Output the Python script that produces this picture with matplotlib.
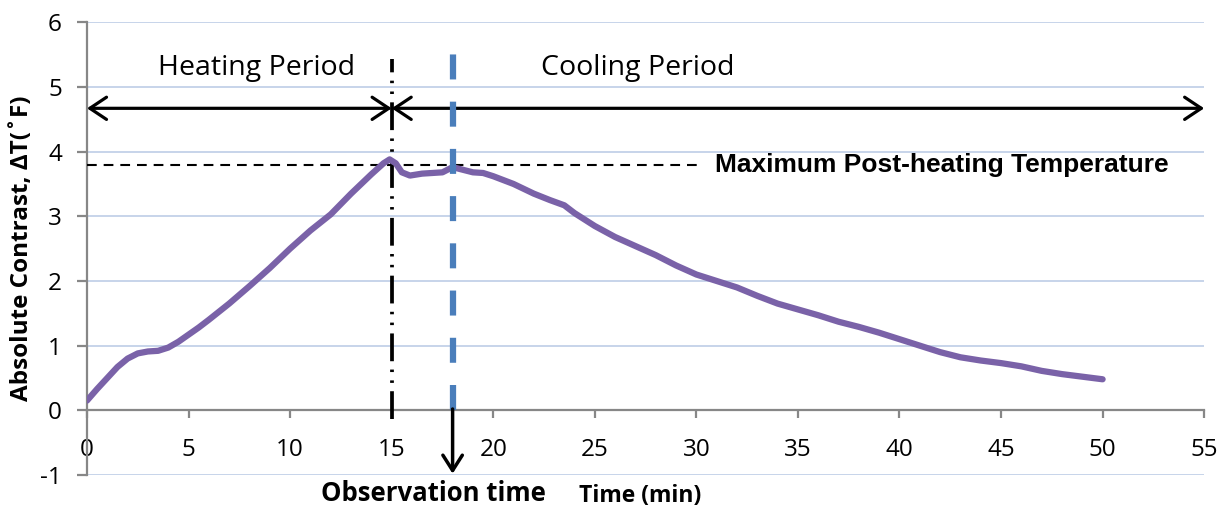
import numpy as np
import matplotlib
matplotlib.use('Agg')
from matplotlib import pyplot as plt

# Absolute contrast curve
time_min = [0, 0.5, 1, 1.5, 2, 2.5, 3, 3.5, 4, 4.5, 5, 5.5, 6, 7, 8, 9, 10, 11, 12, 13,
            14, 14.6, 14.9, 15.2, 15.5, 15.9, 16.5, 17, 17.5, 18, 18.5, 19, 19.5, 20, 21,
            22, 22.8, 23.5, 24, 25, 26, 27, 28, 29, 29.5, 30, 31, 32, 33, 34, 35, 36, 37,
            38, 39, 40, 41, 42, 43, 44, 45, 46, 47, 48, 49, 50]
contrast = [0.15, 0.33, 0.5, 0.67, 0.8, 0.88, 0.91, 0.92, 0.97, 1.06, 1.17, 1.28, 1.4,
            1.65, 1.92, 2.2, 2.5, 2.78, 3.03, 3.35, 3.65, 3.82, 3.88, 3.82, 3.68, 3.63,
            3.66, 3.67, 3.68, 3.76, 3.72, 3.68, 3.67, 3.62, 3.5, 3.35, 3.25, 3.17, 3.05,
            2.85, 2.68, 2.54, 2.4, 2.24, 2.17, 2.1, 2.0, 1.9, 1.77, 1.65, 1.56, 1.47, 1.37,
            1.29, 1.2, 1.1, 1.0, 0.9, 0.82, 0.77, 0.73, 0.68, 0.61, 0.56, 0.52, 0.48]

x_ticks = list(range(0, 60, 5))
y_ticks = list(range(-1, 7))

heat_end = 15
obs_time = 18
max_post = 3.8
arrow_y = 4.67

plt.rcParams['lines.scale_dashes'] = False
plt.rcParams['axes.unicode_minus'] = False
calibri = 'Open Sans'

fig = plt.figure(figsize=(12.25, 5.15), dpi=100)
ax = fig.add_axes([0.071, 0.0777, 0.912, 0.879])

ax.set_xlim(0, 55)
ax.set_ylim(-1, 6)
ax.set_xticks(x_ticks)
ax.set_yticks(y_ticks)
ax.yaxis.grid(True, color='#c3d1e8', lw=1.3)
ax.set_axisbelow(True)

for s in ['top', 'right']:
    ax.spines[s].set_visible(False)
ax.spines['bottom'].set_position(('data', 0))
for s in ['bottom', 'left']:
    ax.spines[s].set_color('#878787')
    ax.spines[s].set_linewidth(1.6)

ax.tick_params(axis='x', direction='out', length=6, width=1.6, color='#878787',
               pad=14, labelsize=17.5)
ax.tick_params(axis='y', direction='out', length=7, width=1.6, color='#878787',
               pad=11, labelsize=17.5)
for lab in ax.get_xticklabels() + ax.get_yticklabels():
    lab.set_family(calibri)

# main curve
ax.plot(time_min, contrast, color='#7a62a8', lw=4.5, solid_capstyle='round',
        solid_joinstyle='round', zorder=5)

# max post-heating level
ax.plot([0, 30.2], [max_post, max_post], color='black', lw=1.5, dashes=(7, 5), zorder=4)
ax.text(30.9, max_post, 'Maximum Post-heating Temperature', family='Liberation Sans',
        weight='bold', fontsize=19, va='center', ha='left')

# end of heating
ax.plot([heat_end, heat_end], [-0.13, 5.44], color='black', lw=2.7,
        dashes=(20, 6, 1.8, 6, 1.8, 6), clip_on=False, zorder=4)

# observation time
ax.plot([obs_time, obs_time], [0, 5.52], color='#4a7ebb', lw=4.5,
        dashes=(18, 16), zorder=6)
ax.annotate('', xy=(obs_time, -0.98), xytext=(obs_time, 0.02),
            arrowprops=dict(arrowstyle='->, head_length=0.55, head_width=0.35',
                            lw=2.5, color='black', mutation_scale=20,
                            shrinkA=0, shrinkB=0), annotation_clip=False, zorder=7)

# period arrows
arrow_style = dict(arrowstyle='<->, head_length=0.6, head_width=0.4', lw=2.3,
                   color='black', mutation_scale=20, shrinkA=0, shrinkB=0)
ax.annotate('', xy=(0, arrow_y), xytext=(heat_end, arrow_y), arrowprops=arrow_style)
ax.annotate('', xy=(heat_end, arrow_y), xytext=(55, arrow_y), arrowprops=arrow_style,
            annotation_clip=False)

ax.text(8.37, 5.3, 'Heating Period', family=calibri, fontsize=20.5, ha='center', va='center')
ax.text(27.1, 5.3, 'Cooling Period', family=calibri, fontsize=20.5, ha='center', va='center')

ax.text(17.05, -1.29, 'Observation time', family=calibri, weight='bold', fontsize=18.5,
        ha='center', va='center', clip_on=False)
ax.text(27.25, -1.33, 'Time (min)', family=calibri, weight='bold', fontsize=16.5,
        ha='center', va='center', clip_on=False)

fig.text(0.018, 0.518, 'Absolute Contrast, ΔT(˚F)', family=calibri, weight='bold',
         fontsize=17.5, rotation=90, ha='center', va='center')

fig.savefig('out.png', dpi=100)
